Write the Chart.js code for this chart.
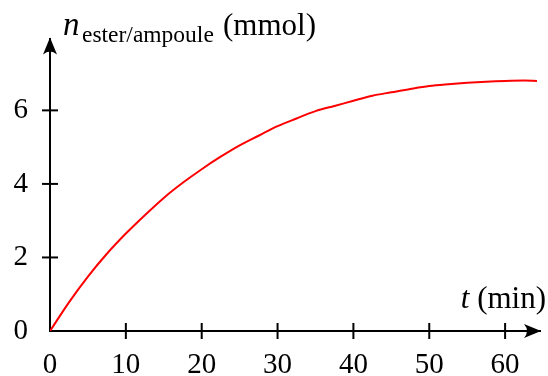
<!DOCTYPE html>
<html>
<head>
<meta charset="utf-8">
<script src="https://cdn.jsdelivr.net/npm/chart.js@4"></script>
<style>
  html, body { margin: 0; padding: 0; background: #fff; }
  #wrap { width: 548px; height: 376px; }
</style>
</head>
<body>
<div id="wrap"><canvas id="ester-chart"></canvas></div>
<script>
// time (min) and amount of ester per ampoule (mmol)
const times = [0, 2.5, 5, 7.5, 10, 12.5, 15, 17.5, 20, 22.5, 25, 27.5, 30, 32.5,
  35, 37.5, 40, 42.5, 45, 47.5, 50, 52.5, 55, 57.5, 60, 62.5, 64.2];
const nEster = [0, 0.78, 1.48, 2.10, 2.65, 3.15, 3.62, 4.03, 4.40, 4.74, 5.05, 5.31,
  5.57, 5.78, 5.98, 6.12, 6.26, 6.40, 6.49, 6.58, 6.66, 6.71, 6.75, 6.78, 6.80, 6.81, 6.80];
const xTicks = [0, 10, 20, 30, 40, 50, 60];
const yTicks = [0, 2, 4, 6];

const FONT = "'Liberation Serif', serif";

function arrowHead(ctx, x, y, angle) {
  ctx.save();
  ctx.translate(x, y);
  ctx.rotate(angle);
  ctx.beginPath();
  ctx.moveTo(0, 0);
  ctx.lineTo(-17, -7);
  ctx.quadraticCurveTo(-11, 0, -17, 7);
  ctx.closePath();
  ctx.fillStyle = "#000";
  ctx.fill();
  ctx.restore();
}

const axisDecor = {
  id: "axisDecor",
  afterDraw(chart) {
    const { ctx, scales } = chart;
    const x = scales.x, y = scales.y;
    const x0 = x.getPixelForValue(0), y0 = y.getPixelForValue(0);
    ctx.save();
    ctx.strokeStyle = "#000";
    ctx.lineWidth = 2;
    // tick marks crossing the axes
    xTicks.forEach((v) => {
      if (v === 0) return;
      const px = x.getPixelForValue(v);
      ctx.beginPath();
      ctx.moveTo(px, y0 - 8);
      ctx.lineTo(px, y0 + 8);
      ctx.stroke();
    });
    yTicks.forEach((v) => {
      if (v === 0) return;
      const py = y.getPixelForValue(v);
      ctx.beginPath();
      ctx.moveTo(x0 - 8, py);
      ctx.lineTo(x0 + 8, py);
      ctx.stroke();
    });
    arrowHead(ctx, x.right + 1, y0, 0);
    arrowHead(ctx, x0, y.top - 2, -Math.PI / 2);

    // axis titles
    ctx.fillStyle = "#000";
    ctx.textBaseline = "alphabetic";
    ctx.textAlign = "left";
    const ty = 35;
    ctx.font = "italic 33px " + FONT;
    ctx.fillText("n", x0 + 13, ty);
    ctx.font = "23.5px " + FONT;
    ctx.fillText("ester/ampoule", x0 + 32, ty + 7);
    ctx.font = "31px " + FONT;
    ctx.fillText("(mmol)", x0 + 173, ty);

    ctx.textAlign = "right";
    const unit = " (min)";
    const ux = 546;
    ctx.fillText(unit, ux, 308);
    const uw = ctx.measureText(unit).width;
    ctx.font = "italic 31px " + FONT;
    ctx.fillText("t", ux - uw, 308);
    ctx.restore();
  },
};

new Chart(document.getElementById("ester-chart"), {
  type: "line",
  data: {
    datasets: [
      {
        data: times.map((t, i) => ({ x: t, y: nEster[i] })),
        borderColor: "#ff0000",
        borderWidth: 2,
        pointRadius: 0,
        cubicInterpolationMode: "monotone",
        fill: false,
      },
    ],
  },
  options: {
    responsive: true,
    maintainAspectRatio: false,
    animation: false,
    layout: { padding: { top: 30, right: 8, left: 0, bottom: 0 } },
    plugins: { legend: { display: false }, tooltip: { enabled: false } },
    scales: {
      x: {
        type: "linear",
        min: 0,
        max: 64.6,
        afterBuildTicks: (scale) => {
          scale.ticks = xTicks.map((v) => ({ value: v }));
        },
        afterFit: (scale) => {
          scale.height = 45;
        },
        grid: { display: false, drawTicks: false },
        border: { display: true, color: "#000", width: 2 },
        ticks: {
          color: "#000",
          font: { family: FONT, size: 29 },
          padding: 17,
          maxRotation: 0,
          autoSkip: false,
        },
      },
      y: {
        type: "linear",
        min: 0,
        max: 7.93,
        afterBuildTicks: (scale) => {
          scale.ticks = yTicks.map((v) => ({ value: v }));
        },
        afterFit: (scale) => {
          scale.width = 50;
        },
        grid: { display: false, drawTicks: false },
        border: { display: true, color: "#000", width: 2 },
        ticks: {
          color: "#000",
          font: { family: FONT, size: 29 },
          padding: 22,
        },
      },
    },
  },
  plugins: [axisDecor],
});
</script>
</body>
</html>
